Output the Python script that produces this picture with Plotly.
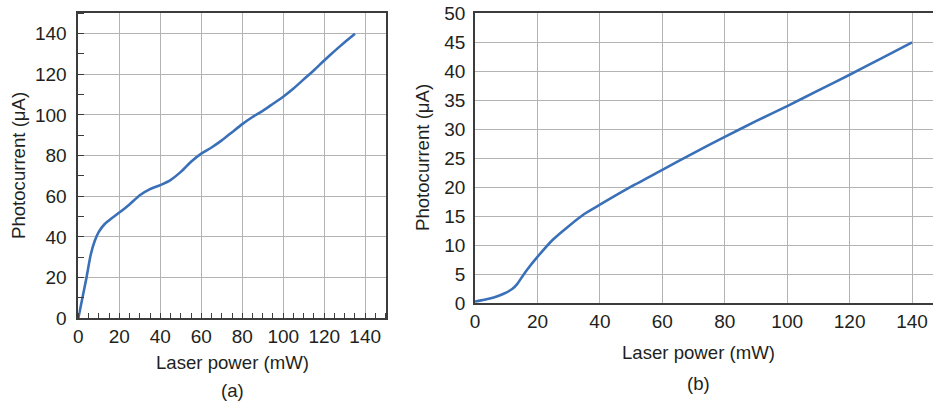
import plotly.graph_objects as go

# Panel (a): photocurrent vs laser power
power_a = [0, 2, 4, 6, 8, 10, 13, 16, 20, 25, 30, 35, 40, 45, 50, 55, 60, 65,
           70, 75, 80, 85, 90, 95, 100, 105, 110, 115, 120, 125, 130, 135]
current_a = [0, 10, 20, 31, 38, 42.5, 46.5, 49, 52, 56, 60.5, 63.5, 65.5, 68, 72,
             77, 81, 84, 87.5, 91.5, 95.5, 99, 102, 105.5, 109, 113, 117.5,
             122, 126.8, 131.4, 135.8, 140]

# Panel (b): photocurrent vs laser power
power_b = [0, 3, 6, 9, 12, 13.5, 15, 17, 20, 25, 30, 35, 40, 50, 60, 70, 80,
           90, 100, 110, 120, 130, 140]
current_b = [0.3, 0.6, 1.0, 1.6, 2.5, 3.3, 4.5, 6.0, 8.0, 11.0, 13.3, 15.4, 17.0,
             20.1, 23.0, 25.9, 28.7, 31.4, 34.0, 36.7, 39.4, 42.2, 45.0]

x_ticks = [0, 20, 40, 60, 80, 100, 120, 140]
y_ticks_a = [0, 20, 40, 60, 80, 100, 120, 140]
y_ticks_b = [0, 5, 10, 15, 20, 25, 30, 35, 40, 45, 50]

W, H = 933, 402
LINE_COLOR = "#3a70b8"
TEXT = "#231f20"
GRID = "#b3b3b3"
AXIS = "#3c3c3c"
FONT = "Liberation Sans, Arial, sans-serif"


def px_x(p):
    return p / W


def px_y(p):
    return 1 - p / H


fig = go.Figure()
fig.add_trace(go.Scatter(x=power_a, y=current_a, mode="lines",
                         line=dict(color=LINE_COLOR, width=2.6, shape="spline", smoothing=0.6),
                         xaxis="x", yaxis="y", showlegend=False))
fig.add_trace(go.Scatter(x=power_b, y=current_b, mode="lines",
                         line=dict(color=LINE_COLOR, width=2.6, shape="spline", smoothing=0.6),
                         xaxis="x2", yaxis="y2", showlegend=False))

common = dict(showgrid=True, gridcolor=GRID, gridwidth=1.2, zeroline=False,
              showline=True, linecolor=AXIS, linewidth=1.8, ticks="",
              automargin=False,
              tickfont=dict(family=FONT, size=19, color=TEXT))

fig.update_layout(
    width=W, height=H,
    margin=dict(l=0, r=0, t=0, b=0),
    paper_bgcolor="white", plot_bgcolor="white",
    font=dict(family=FONT, color=TEXT),
    xaxis=dict(domain=[px_x(78.3), px_x(385.7)], range=[0, 150], anchor="y",
               tickvals=x_ticks, mirror=True, ticklabelstandoff=0,
               minor=dict(dtick=5, ticks="inside", ticklen=5, tickcolor=AXIS,
                          tickwidth=1, showgrid=False),
               **common),
    yaxis=dict(domain=[px_y(318.3), px_y(13.3)], range=[0, 150], anchor="x",
               tickvals=y_ticks_a, mirror=True, ticklabelstandoff=6,
               minor=dict(dtick=10, ticks="inside", ticklen=6, tickcolor=AXIS,
                          tickwidth=1, showgrid=False),
               **common),
    xaxis2=dict(domain=[px_x(475), 1.0], range=[0, 146.7], anchor="y2",
                tickvals=x_ticks, mirror=True, ticklabelstandoff=0, **common),
    yaxis2=dict(domain=[px_y(303.3), px_y(13.3)], range=[0, 50], anchor="x2",
                tickvals=y_ticks_b, mirror=False, ticklabelstandoff=4, **common),
)

title_font = dict(family=FONT, size=18.6, color=TEXT)
annotations = [
    dict(text="Laser power (mW)", x=px_x(232), y=px_y(362)),
    dict(text="(a)", x=px_x(232), y=px_y(390)),
    dict(text="Laser power (mW)", x=px_x(698), y=px_y(352)),
    dict(text="(b)", x=px_x(698), y=px_y(383)),
    dict(text="Photocurrent (μA)", x=px_x(18), y=px_y(166), textangle=-90),
    dict(text="Photocurrent (μA)", x=px_x(422), y=px_y(158), textangle=-90),
]
for a in annotations:
    fig.add_annotation(xref="paper", yref="paper", showarrow=False,
                       xanchor="center", yanchor="middle", font=title_font, **a)

fig.write_html("out.html")
